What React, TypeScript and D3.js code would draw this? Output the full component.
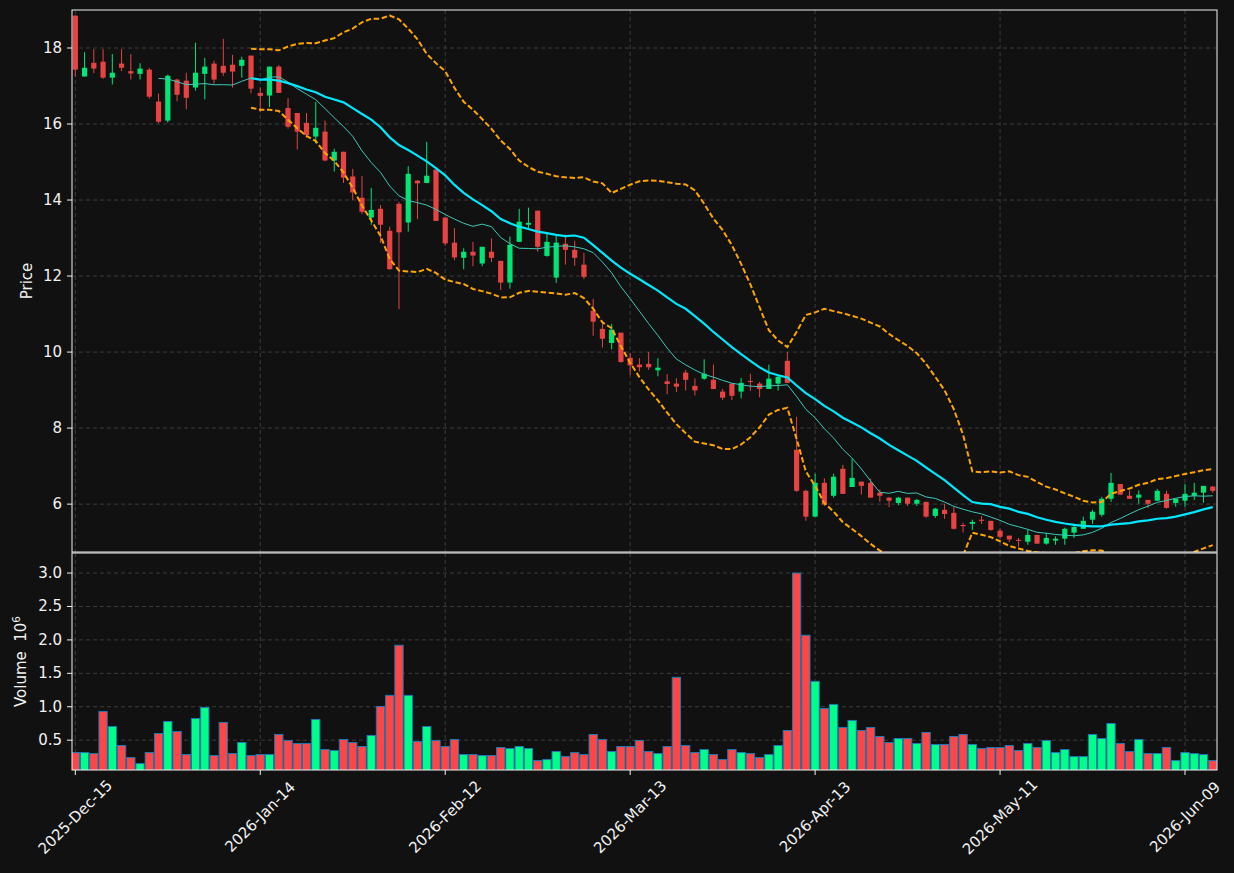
import React from 'react';
import * as d3 from 'd3';

const opens = [18.85,17.25,17.61,17.64,17.22,17.59,17.39,17.32,17.43,16.59,16.09,17.17,17.14,16.96,17.32,17.59,17.53,17.56,17.53,17.80,
16.82,16.75,17.51,16.42,16.29,16.03,15.67,15.80,15.04,15.27,14.62,14.06,13.54,13.77,13.19,13.90,13.41,14.51,14.45,14.80,
13.54,12.88,12.48,12.64,12.33,12.64,12.40,11.83,12.90,13.35,13.72,12.53,11.96,12.85,12.69,12.30,11.09,10.61,10.24,10.51,
9.85,9.67,9.69,9.52,9.23,9.17,9.46,9.11,9.30,9.27,8.96,9.17,8.96,9.24,9.17,9.03,9.17,9.77,7.43,6.35,
5.67,6.56,6.22,6.93,6.45,6.59,6.56,6.30,6.17,6.03,6.17,6.01,6.06,5.69,5.85,5.77,5.45,5.48,5.59,5.56,
5.30,5.17,5.06,5.01,5.19,4.96,5.04,5.09,5.25,5.35,5.59,5.72,6.14,6.53,6.22,6.17,6.11,6.09,6.27,6.03,
6.09,6.22,6.30,6.46];
const highs = [18.87,17.89,17.97,17.97,17.84,17.97,17.84,17.60,17.48,16.80,17.30,17.19,17.35,18.14,17.74,17.67,18.24,17.82,17.77,17.80,
16.96,17.51,17.55,16.68,16.29,16.29,16.58,16.09,15.35,15.27,14.82,14.63,14.32,13.87,13.30,13.95,14.89,14.53,15.53,14.80,
13.54,13.26,12.73,12.90,12.77,12.99,12.40,13.04,13.77,13.80,13.72,13.14,13.09,13.09,12.93,12.61,11.40,10.77,10.74,10.51,
9.98,9.84,10.00,9.84,9.42,9.31,9.53,9.31,9.81,9.67,9.03,9.17,9.32,9.43,9.22,9.67,9.40,10.00,8.30,6.38,
6.80,6.68,6.80,7.03,7.19,6.59,6.67,6.38,6.19,6.19,6.17,6.14,6.06,5.90,6.01,5.93,5.51,5.59,5.69,5.56,
5.35,5.17,5.11,5.32,5.19,5.24,5.15,5.38,5.48,5.67,5.85,6.19,6.82,6.53,6.36,6.36,6.11,6.40,6.35,6.14,
6.53,6.56,6.48,6.48];
const lows = [17.25,17.25,17.34,17.19,17.04,17.39,17.17,17.17,16.67,16.02,16.04,16.60,16.39,16.88,16.65,17.06,17.27,16.96,17.22,16.81,
16.31,16.45,16.82,15.88,15.33,15.64,15.49,15.02,14.75,14.45,14.00,13.63,13.35,12.87,12.17,11.13,13.17,13.50,14.44,13.45,
12.80,12.42,12.18,12.26,12.26,12.37,11.63,11.67,12.90,13.25,12.64,12.51,11.82,12.30,12.27,11.92,10.43,10.12,10.07,9.72,
9.40,9.49,9.53,9.36,8.89,8.95,8.99,8.86,9.27,9.02,8.74,8.74,8.78,8.98,8.81,9.03,8.99,9.19,6.32,5.56,
5.67,5.95,6.17,6.27,6.45,6.25,6.17,6.06,5.92,5.97,5.95,5.95,5.64,5.64,5.61,5.33,5.25,5.32,5.48,5.30,
5.10,5.00,4.88,4.93,4.95,4.93,4.93,4.93,5.11,5.35,5.48,5.67,6.06,6.24,6.14,6.01,5.90,6.09,5.88,5.93,
5.93,6.11,6.04,6.30];
const closes = [17.43,17.48,17.46,17.22,17.35,17.48,17.33,17.46,16.72,16.06,17.27,16.77,16.69,17.35,17.51,17.17,17.35,17.38,17.69,16.93,
16.74,17.51,16.82,15.93,15.80,15.71,15.90,15.04,15.27,14.59,14.20,13.69,13.74,13.35,12.18,13.15,14.69,14.44,14.64,13.45,
12.86,12.49,12.64,12.54,12.77,12.48,11.83,12.82,13.43,13.40,12.77,12.90,12.88,12.69,12.48,11.98,10.80,10.35,10.59,9.74,
9.65,9.60,9.60,9.59,9.16,9.09,9.27,8.99,9.43,9.03,8.80,8.85,9.19,9.22,9.03,9.30,9.35,9.19,6.35,5.67,
6.56,5.99,6.72,6.27,6.69,6.48,6.17,6.22,6.09,6.17,6.01,6.11,5.67,5.88,5.74,5.35,5.42,5.53,5.56,5.32,
5.14,5.07,5.04,5.19,4.96,5.11,5.09,5.35,5.40,5.56,5.80,6.14,6.56,6.25,6.14,6.25,6.01,6.35,5.90,6.14,
6.27,6.30,6.48,6.35];
const volumes = [0.315,0.315,0.30,0.93,0.705,0.42,0.24,0.15,0.315,0.60,0.78,0.63,0.285,0.825,0.99,0.27,0.765,0.30,0.465,0.27,
0.285,0.285,0.585,0.495,0.45,0.45,0.81,0.36,0.345,0.51,0.465,0.405,0.57,1.005,1.17,1.92,1.17,0.48,0.705,0.495,
0.405,0.51,0.285,0.285,0.27,0.27,0.39,0.375,0.405,0.375,0.195,0.21,0.33,0.255,0.315,0.285,0.585,0.51,0.33,0.405,
0.405,0.495,0.33,0.30,0.405,1.44,0.42,0.315,0.36,0.285,0.21,0.36,0.315,0.30,0.24,0.285,0.42,0.645,3.00,2.07,
1.38,0.975,1.035,0.69,0.795,0.645,0.69,0.555,0.465,0.525,0.525,0.45,0.615,0.435,0.435,0.555,0.585,0.435,0.375,0.39,
0.39,0.42,0.345,0.45,0.39,0.495,0.315,0.36,0.255,0.255,0.585,0.525,0.75,0.45,0.33,0.51,0.30,0.30,0.39,0.195,
0.315,0.30,0.285,0.195];

const xTickIdx = [0, 20, 40, 60, 80, 100, 120];
const xTickLabels = ['2025-Dec-15', '2026-Jan-14', '2026-Feb-12', '2026-Mar-13', '2026-Apr-13', '2026-May-11', '2026-Jun-09'];
const priceTicks = [6, 8, 10, 12, 14, 16, 18];
const volTicks = [0.5, 1.0, 1.5, 2.0, 2.5, 3.0];

const W = 1234, H = 873;
const L = 72, R = 1217, PT = 10, PB = 552, VT = 553, VB = 770;
const FONT = 'DejaVu Sans, sans-serif';
const FS = 15;

const UP = '#00e676', DOWN = '#e84343';
const VUP = '#00ff88', VDOWN = '#ff4646';
const GRID = '#3c3c3c';
const AX = '#f2f2f2';

function rolling(n: number, fn: (w: number[]) => number) {
  return closes.map((_, i) => (i < n - 1 ? null : fn(closes.slice(i - n + 1, i + 1))));
}

export default function App() {
  const n = closes.length;
  const x = d3.scaleLinear().domain([-0.36, n - 1 + 0.46]).range([L, R]);
  const y = d3.scaleLinear().domain([4.74, 19.0]).range([PB, PT]);
  const yv = d3.scaleLinear().domain([0.054, 3.30]).range([VB, VT]);
  const step = x(1) - x(0);

  const ma10 = rolling(10, (w) => d3.mean(w) as number);
  const ma20 = rolling(20, (w) => d3.mean(w) as number);
  const sd20 = rolling(20, (w) => d3.deviation(w) as number);
  const upper = ma20.map((m, i) => (m == null ? null : m + 2 * (sd20[i] as number)));
  const lower = ma20.map((m, i) => (m == null ? null : m - 2 * (sd20[i] as number)));

  const line = d3
    .line<number | null>()
    .defined((d) => d != null)
    .x((_, i) => x(i))
    .y((d) => y(d as number));

  const bodyW = 5.2;
  const barW = step * 0.9;

  return (
    <svg width={W} height={H} style={{ position: 'fixed', left: 0, top: 0, background: '#111111' }} fontFamily={FONT}>
      <defs>
        <clipPath id="cp"><rect x={L} y={PT} width={R - L} height={PB - PT} /></clipPath>
        <clipPath id="cv"><rect x={L} y={VT} width={R - L} height={VB - VT} /></clipPath>
      </defs>
      <rect x={0} y={0} width={W} height={H} fill="#111111" />
      <g stroke={GRID} strokeWidth={1} strokeDasharray="4,3">
        {priceTicks.map((t) => (
          <line key={'pg' + t} x1={L} x2={R} y1={y(t)} y2={y(t)} />
        ))}
        {volTicks.map((t) => (
          <line key={'vg' + t} x1={L} x2={R} y1={yv(t)} y2={yv(t)} />
        ))}
        {xTickIdx.map((t) => (
          <g key={'xg' + t}>
            <line x1={x(t)} x2={x(t)} y1={PT} y2={PB} />
            <line x1={x(t)} x2={x(t)} y1={VT} y2={VB} />
          </g>
        ))}
      </g>
      <g clipPath="url(#cp)">
        {closes.map((c, i) => {
          const o = opens[i];
          const col = c >= o ? UP : DOWN;
          const top = y(Math.max(o, c));
          const bot = y(Math.min(o, c));
          return (
            <g key={'c' + i}>
              <line x1={x(i)} x2={x(i)} y1={y(highs[i])} y2={y(lows[i])} stroke={col} strokeWidth={1} />
              <rect x={x(i) - bodyW / 2} y={top} width={bodyW} height={Math.max(1, bot - top)} fill={col} />
            </g>
          );
        })}
        <path d={line(upper) || ''} fill="none" stroke="#ffa500" strokeWidth={2} strokeDasharray="5.5,2.6" />
        <path d={line(lower) || ''} fill="none" stroke="#ffa500" strokeWidth={2} strokeDasharray="5.5,2.6" />
        <path d={line(ma10) || ''} fill="none" stroke="#3cc9b9" strokeWidth={1} />
        <path d={line(ma20) || ''} fill="none" stroke="#00e8ff" strokeWidth={2.2} />
      </g>
      <g clipPath="url(#cv)">
        {volumes.map((v, i) => {
          const col = closes[i] >= opens[i] ? VUP : VDOWN;
          return (
            <rect key={'v' + i} x={x(i) - barW / 2} y={yv(v)} width={barW} height={VB + 5 - yv(v)} fill={col} stroke="#1f77b4" strokeWidth={1} />
          );
        })}
      </g>
      <rect x={L} y={PT} width={R - L} height={PB - PT} fill="none" stroke={AX} strokeWidth={1} />
      <rect x={L} y={VT} width={R - L} height={VB - VT} fill="none" stroke={AX} strokeWidth={1} />
      <g fill={AX} fontSize={FS}>
        {priceTicks.map((t) => (
          <g key={'pt' + t}>
            <line x1={L - 5} x2={L} y1={y(t)} y2={y(t)} stroke={AX} />
            <text x={L - 10} y={y(t)} textAnchor="end" dominantBaseline="central">{t}</text>
          </g>
        ))}
        {volTicks.map((t) => (
          <g key={'vt' + t}>
            <line x1={L - 5} x2={L} y1={yv(t)} y2={yv(t)} stroke={AX} />
            <text x={L - 10} y={yv(t)} textAnchor="end" dominantBaseline="central">{t.toFixed(1)}</text>
          </g>
        ))}
        {xTickIdx.map((t, k) => (
          <g key={'xt' + t}>
            <line x1={x(t)} x2={x(t)} y1={VB} y2={VB + 5} stroke={AX} />
            <text
              x={x(t)}
              y={817}
              textAnchor="middle"
              dominantBaseline="central"
              transform={`rotate(-45, ${x(t)}, 817)`}
            >
              {xTickLabels[k]}
            </text>
          </g>
        ))}
        <text x={31.5} y={(PT + PB) / 2} textAnchor="middle" transform={`rotate(-90, 31.5, ${(PT + PB) / 2})`}>Price</text>
        <text x={26} y={(VT + VB) / 2} textAnchor="middle" transform={`rotate(-90, 26, ${(VT + VB) / 2})`}>
          <tspan>{'Volume\u00a0\u00a010'}</tspan>
          <tspan dy={-6} fontSize={10.5}>6</tspan>
        </text>
      </g>
    </svg>
  );
}
